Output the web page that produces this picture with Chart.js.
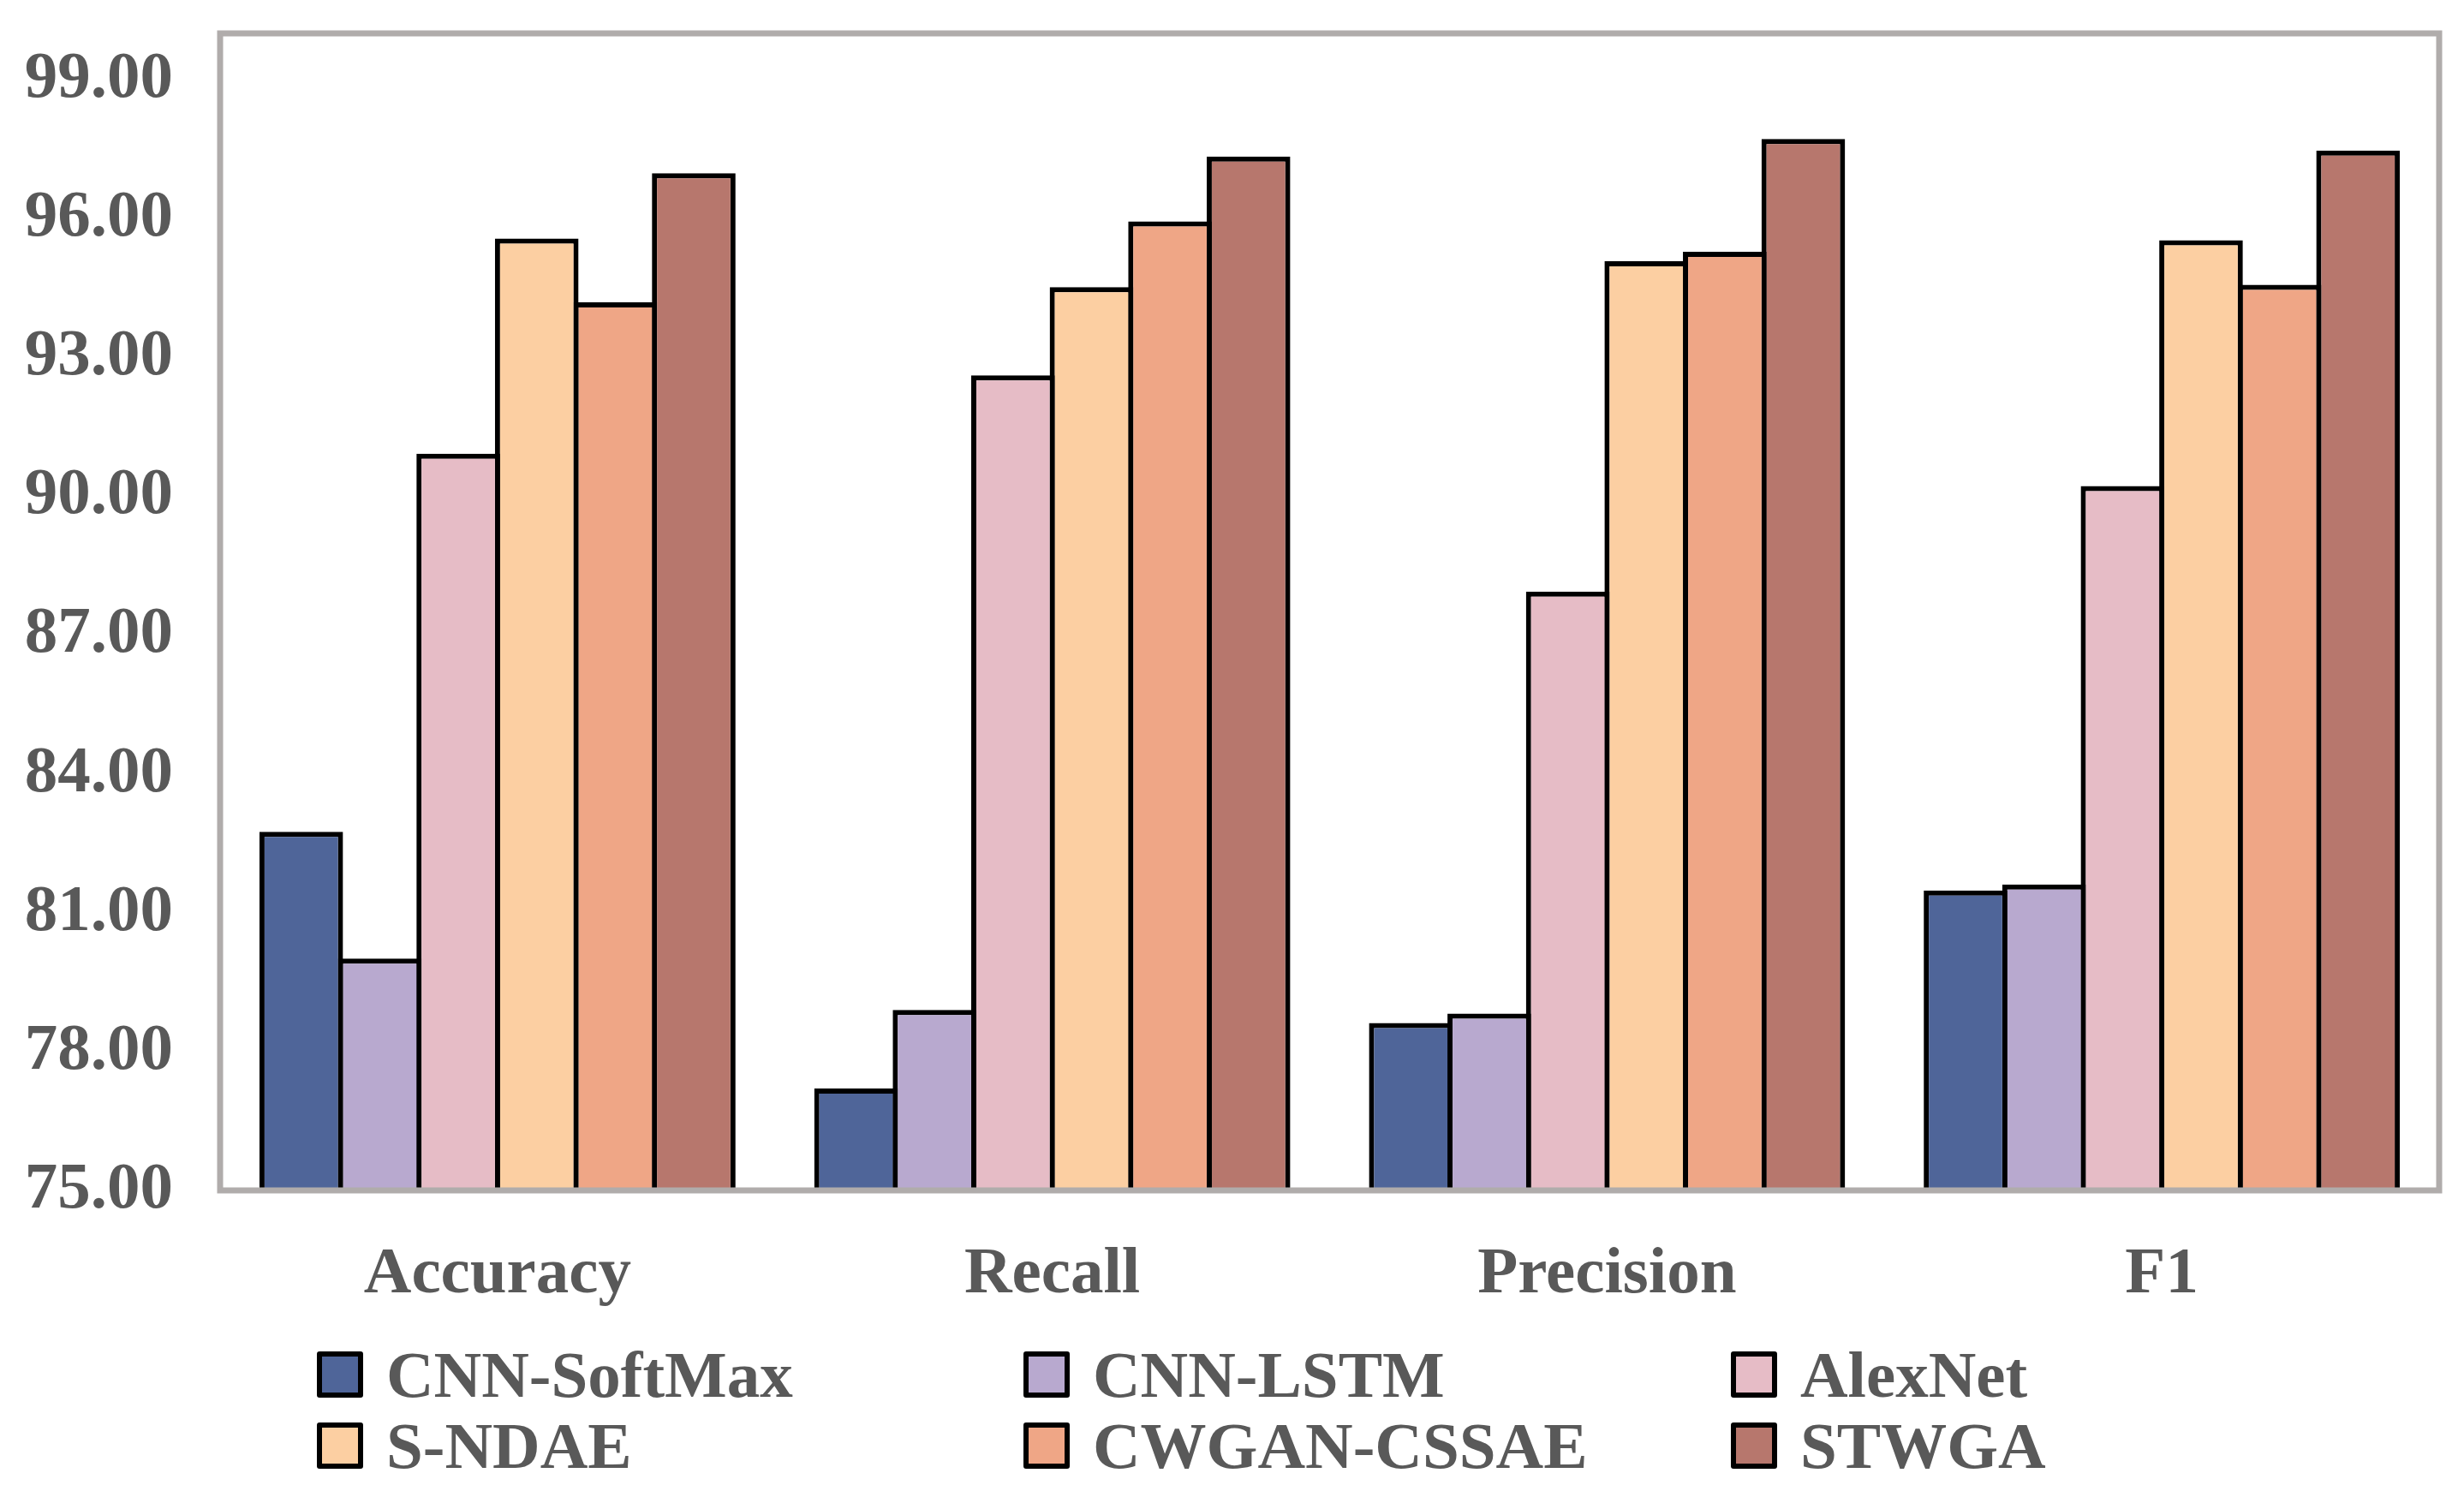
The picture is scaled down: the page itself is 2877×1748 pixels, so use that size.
<!DOCTYPE html>
<html lang="en">
<head>
    <meta charset="UTF-8">
    <title>Model comparison</title>
    <style>
        html, body { margin: 0; padding: 0; background: #fff; overflow: hidden; }
        .wrap { position: relative; width: 2877px; height: 1748px; }
        .legendItem { position: absolute; height: 78px; }
        .legendBox { position: absolute; left: 0; width: 54px; height: 54px; box-sizing: border-box; border: 6px solid #000; border-radius: 3px; }
        .legendText { position: absolute; left: 81px; white-space: nowrap; font: bold 77px "Liberation Serif", "Times New Roman", serif; line-height: 77px; color: #595959; }
    </style>
</head>
<body>
<div class="wrap">
    <canvas id="scoreChart"></canvas>
    <div id="legend"></div>
</div>
<script src="https://cdn.jsdelivr.net/npm/chart.js"></script>
<script>
    // metrics on the x axis
    const categories = ["Accuracy", "Recall", "Precision", "F1"];
    const models = ["CNN-SoftMax", "CNN-LSTM", "AlexNet", "S-NDAE", "CWGAN-CSSAE", "STWGA"];

    // values, one array per model
    const cnnSoftmax = [82.75, 77.20, 78.62, 81.48];
    const cnnLstm = [80.01, 78.90, 78.82, 81.61];
    const alexNet = [90.92, 92.61, 87.94, 90.22];
    const sNdae = [95.57, 94.52, 95.08, 95.53];
    const cwganCssae = [94.19, 95.94, 95.28, 94.57];
    const stwga = [96.98, 97.34, 97.72, 97.47];

    const yTicks = [75, 78, 81, 84, 87, 90, 93, 96, 99];
    const colors = ["#4f6599", "#b8a9cf", "#e6bcc6", "#fccfa2", "#efa686", "#b7776d"];
    const seriesValues = [cnnSoftmax, cnnLstm, alexNet, sNdae, cwganCssae, stwga];

    const font = { family: '"Liberation Serif", "Times New Roman", serif', size: 77, weight: 'bold' };

    const frame = {
        id: 'frame',
        afterDatasetsDraw(chart) {
            const { ctx, chartArea: a } = chart;
            ctx.save();
            ctx.strokeStyle = '#b0acab';
            ctx.lineWidth = 7;
            ctx.strokeRect(a.left, a.top, a.right - a.left, a.bottom - a.top);
            ctx.restore();
        }
    };

    new Chart(document.getElementById('scoreChart'), {
        type: 'bar',
        data: {
            labels: categories,
            datasets: models.map((m, i) => ({
                label: m,
                data: seriesValues[i],
                backgroundColor: colors[i],
                borderColor: '#000',
                borderWidth: 6,
                borderSkipped: 'start',
                categoryPercentage: 0.849,
                barPercentage: 1.0655
            }))
        },
        options: {
            responsive: true,
            maintainAspectRatio: false,
            animation: false,
            events: [],
            layout: { padding: { left: 0, top: 39, right: 29, bottom: 0 } },
            plugins: { legend: { display: false }, tooltip: { enabled: false } },
            scales: {
                x: {
                    grid: { display: false, drawTicks: false },
                    border: { display: false },
                    ticks: { font: font, color: '#595959', padding: 53, maxRotation: 0 },
                    afterFit(scale) { scale.height = 358; }
                },
                y: {
                    min: 75,
                    max: 100,
                    grid: { display: false, drawTicks: false },
                    border: { display: false },
                    ticks: {
                        font: font,
                        color: '#595959',
                        padding: 55,
                        callback: v => v.toFixed(2)
                    },
                    afterBuildTicks(scale) { scale.ticks = yTicks.map(v => ({ value: v })); },
                    afterFit(scale) {
                        scale.width = 257;
                        // keep the label padding from pushing the plot down
                        scale.paddingTop = 0;
                        scale.paddingBottom = 0;
                    }
                }
            }
        },
        plugins: [frame]
    });

    // legend: two rows of three, fixed columns like the original
    const legendDiv = document.getElementById('legend');
    const colX = [370, 1195, 2021];
    const rowY = [1578, 1661];
    models.forEach((m, i) => {
        const item = document.createElement('div');
        item.className = 'legendItem';
        item.style.left = colX[i % 3] + 'px';
        item.style.top = rowY[Math.floor(i / 3)] + 'px';
        item.innerHTML = `<div class="legendBox" style="background:${colors[i]}"></div>
            <div class="legendText" style="top:-11px">${m}</div>`;
        legendDiv.appendChild(item);
    });
</script>
</body>
</html>
